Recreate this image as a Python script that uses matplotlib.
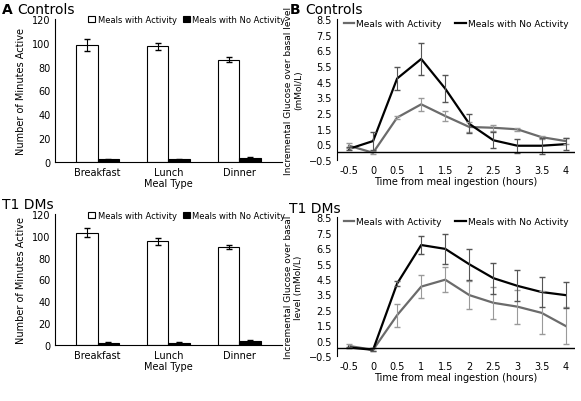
import matplotlib.pyplot as plt
import numpy as np

meals = ['Breakfast', 'Lunch', 'Dinner']
ctrl_act = [98, 97, 86]
ctrl_act_err = [5, 3, 2]
ctrl_no = [2, 2, 3]
ctrl_no_err = [0.5, 0.5, 1]
t1_act = [103, 95, 90]
t1_act_err = [4, 3, 2]
t1_no = [2, 2, 3]
t1_no_err = [0.5, 0.5, 1]

hours = [-0.5, 0, 0.5, 1, 1.5, 2, 2.5, 3, 3.5, 4]
c_act = [0.4, -0.05, 2.2, 3.05, 2.3, 1.6, 1.55, 1.45, 0.95, 0.7]
c_act_err = [0.15, 0.1, 0.1, 0.4, 0.3, 0.3, 0.2, 0.1, 0.1, 0.2]
c_no = [0.2, 0.7, 4.7, 5.95, 4.05, 1.8, 0.75, 0.4, 0.4, 0.5]
c_no_err = [0.1, 0.55, 0.75, 1.05, 0.85, 0.6, 0.5, 0.45, 0.5, 0.4]
t_act = [0.15, -0.1, 2.15, 4.0, 4.45, 3.45, 2.95, 2.7, 2.3, 1.45]
t_act_err = [0.1, 0.1, 0.75, 0.75, 0.8, 0.9, 1.05, 1.1, 1.4, 1.2]
t_no = [0.05, -0.1, 4.2, 6.7, 6.45, 5.45, 4.55, 4.05, 3.65, 3.45]
t_no_err = [0.05, 0.1, 0.15, 0.6, 0.95, 1.0, 1.0, 1.0, 0.95, 0.85]

plt.rcParams['font.size'] = 7
fig = plt.figure(figsize=(5.81, 4.02), dpi=100)

def bars(rect, act, act_err, no, no_err):
    ax = fig.add_axes(rect)
    x = np.arange(len(meals))
    w = 0.3
    ax.bar(x - w / 2, act, w, yerr=act_err, color='white', edgecolor='black', lw=0.8,
           error_kw=dict(lw=0.8, capsize=2), label='Meals with Activity')
    ax.bar(x + w / 2, no, w, yerr=no_err, color='black', edgecolor='black', lw=0.8,
           error_kw=dict(lw=0.8, capsize=2), label='Meals with No Activity')
    ax.set_ylim(0, 120)
    ax.set_yticks(range(0, 121, 20))
    ax.set_xticks(x)
    ax.set_xticklabels(meals)
    ax.set_xlim(-0.6, 2.6)
    ax.tick_params(length=0)
    ax.spines[['top', 'right']].set_visible(False)
    ax.set_ylabel('Number of Minutes Active')
    ax.set_xlabel('Meal Type', labelpad=1)
    ax.legend(loc='upper right', bbox_to_anchor=(1.05, 1.08), ncol=2, frameon=False,
              fontsize=6, handlelength=0.8, columnspacing=0.8, handletextpad=0.3)

def lines(rect, act, act_err, no, no_err, ylabel):
    ax = fig.add_axes(rect)
    ax.plot(hours, act, color='#6b6b6b', lw=1.6, label='Meals with Activity')
    ax.plot(hours, no, color='black', lw=1.6, label='Meals with No Activity')
    ax.errorbar(hours, act, yerr=act_err, fmt='none', ecolor='#9a9a9a', elinewidth=0.8, capsize=2)
    ax.errorbar(hours, no, yerr=no_err, fmt='none', ecolor='#555555', elinewidth=0.8, capsize=2)
    ax.axhline(0, color='black', lw=1)
    ax.set_ylim(-0.5, 8.5)
    ax.set_yticks(np.arange(-0.5, 8.6, 1))
    ax.set_xlim(-0.75, 4.2)
    ax.set_xticks(hours)
    ax.set_xticklabels(['-0.5', '0', '0.5', '1', '1.5', '2', '2.5', '3', '3.5', '4'])
    ax.spines[['top', 'right', 'bottom']].set_visible(False)
    ax.tick_params(length=0)
    ax.set_ylabel(ylabel, fontsize=6.5)
    ax.set_xlabel('Time from meal ingestion (hours)', labelpad=1)
    ax.legend(loc='upper center', bbox_to_anchor=(0.5, 1.06), ncol=2, frameon=False,
              fontsize=6.5, handlelength=1.2, columnspacing=1.5, handletextpad=0.2)

bars([0.095, 0.595, 0.39, 0.355], ctrl_act, ctrl_act_err, ctrl_no, ctrl_no_err)
bars([0.095, 0.14, 0.39, 0.325], t1_act, t1_act_err, t1_no, t1_no_err)
lines([0.58, 0.6, 0.41, 0.35], c_act, c_act_err, c_no, c_no_err,
      'Incremental Glucose over basal level\n(mMol/L)')
lines([0.58, 0.112, 0.41, 0.345], t_act, t_act_err, t_no, t_no_err,
      'Incremental Glucose over basal\nlevel (mMol/L)')

fig.text(0.003, 0.975, 'A', fontsize=10, weight='bold', va='center')
fig.text(0.03, 0.975, 'Controls', fontsize=10, va='center')
fig.text(0.003, 0.49, 'T1 DMs', fontsize=10, va='center')
fig.text(0.498, 0.975, 'B', fontsize=10, weight='bold', va='center')
fig.text(0.525, 0.975, 'Controls', fontsize=10, va='center')
fig.text(0.498, 0.48, 'T1 DMs', fontsize=10, va='center')

fig.savefig('out.png', dpi=100)
